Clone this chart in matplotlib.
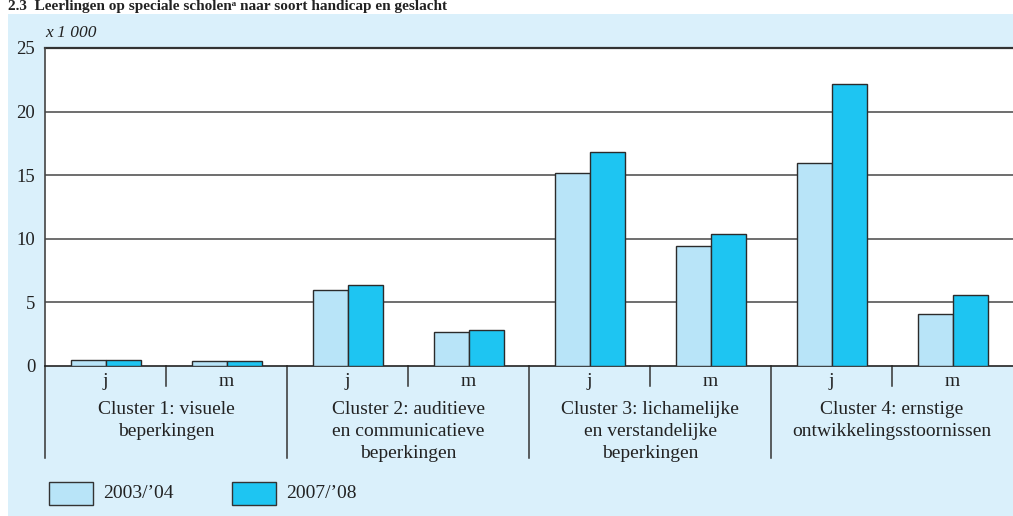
import matplotlib
matplotlib.use("Agg")
import matplotlib.pyplot as plt
from matplotlib.patches import Rectangle
from matplotlib.transforms import blended_transform_factory

# ---- data ----
categories = ["j", "m", "j", "m", "j", "m", "j", "m"]
clusters = ["Cluster 1: visuele\nbeperkingen",
            "Cluster 2: auditieve\nen communicatieve\nbeperkingen",
            "Cluster 3: lichamelijke\nen verstandelijke\nbeperkingen",
            "Cluster 4: ernstige\nontwikkelingsstoornissen"]
series_names = ["2003/\u201904", "2007/\u201908"]
values_2003 = [0.5, 0.37, 6.0, 2.7, 15.2, 9.4, 15.95, 4.1]
values_2007 = [0.5, 0.37, 6.35, 2.8, 16.8, 10.35, 22.2, 5.55]
yticks = [0, 5, 10, 15, 20, 25]
title = "2.3  Leerlingen op speciale scholen\u1d43 naar soort handicap en geslacht"

W, H = 1013, 516
plt.rcParams['font.family'] = ['Liberation Serif', 'DejaVu Serif']
fig = plt.figure(figsize=(W / 100, H / 100), dpi=100, facecolor='white')

panel = '#daf0fb'
c_light = '#b8e4f8'
c_dark = '#1ec5f2'
edge = '#2b2b2b'

# light blue panel
fig.patches.append(Rectangle((8 / W, 0), 1 - 8 / W, (H - 14) / H,
                             transform=fig.transFigure, facecolor=panel,
                             edgecolor='none', zorder=-10))

fig.text(8 / W, 1 - 10 / H, title, fontsize=11, fontweight='bold',
         va='baseline', ha='left', color='#222222')

ax = fig.add_axes([45 / W, (H - 366) / H, 968 / W, 318 / H])
ax.set_zorder(1)
ax.set_facecolor('white')
ax.set_xlim(0, len(categories))
ax.set_ylim(0, 25)

w = 35 / 121
x = range(len(categories))
ax.bar([i + 0.5 - w / 2 for i in x], values_2003, width=w, color=c_light,
       edgecolor=edge, linewidth=1.0, zorder=3, label=series_names[0])
ax.bar([i + 0.5 + w / 2 for i in x], values_2007, width=w, color=c_dark,
       edgecolor=edge, linewidth=1.0, zorder=3, label=series_names[1])

for y in yticks[1:-1]:
    ax.axhline(y, color='#555555', linewidth=1.2, zorder=1)
ax.axhline(25, color='#333333', linewidth=1.6, zorder=1, clip_on=False)

for s in ['top', 'right']:
    ax.spines[s].set_visible(False)
ax.spines['left'].set_color('#444444')
ax.spines['left'].set_linewidth(1.2)
ax.spines['bottom'].set_color('#222222')
ax.spines['bottom'].set_linewidth(1.2)

ax.set_xticks([])
ax.set_yticks(yticks)
ax.set_yticklabels([str(v) for v in yticks], fontsize=13.5, color='#222222')
ax.tick_params(axis='y', length=0, pad=7)

ax.text(0.002, 25 + 15 / 12.72, "x 1 000", fontsize=12.5, fontstyle='italic',
        ha='left', va='center', color='#222222')

tr = blended_transform_factory(ax.transData, ax.transAxes)
px = 1 / 318.0
# separators
for i in range(len(categories)):
    if i % 2 == 0:
        ax.plot([i, i], [0, -92 * px], color='#333333', linewidth=1.1,
                transform=tr, clip_on=False)
    else:
        ax.plot([i, i], [0, -20 * px], color='#333333', linewidth=1.1,
                transform=tr, clip_on=False)

for i, c in enumerate(categories):
    ax.text(i + 0.5, -15 * px, c, fontsize=14, ha='center', va='center',
            transform=tr, color='#222222')

for k, cl in enumerate(clusters):
    ax.text(2 * k + 1, -35 * px, cl, fontsize=14, ha='center', va='top',
            transform=tr, color='#222222', linespacing=1.38)

# legend
def legend_item(x0, color, label):
    fig.patches.append(Rectangle((x0 / W, (H - 505) / H), 44 / W, 23 / H,
                                 transform=fig.transFigure, facecolor=color,
                                 edgecolor='#333333', linewidth=1.0, zorder=2))
    fig.text((x0 + 54) / W, (H - 494) / H, label, fontsize=14,
             ha='left', va='center', color='#222222')

legend_item(49, c_light, series_names[0])
legend_item(232, c_dark, series_names[1])

fig.savefig('out.png', dpi=100, facecolor='white')
